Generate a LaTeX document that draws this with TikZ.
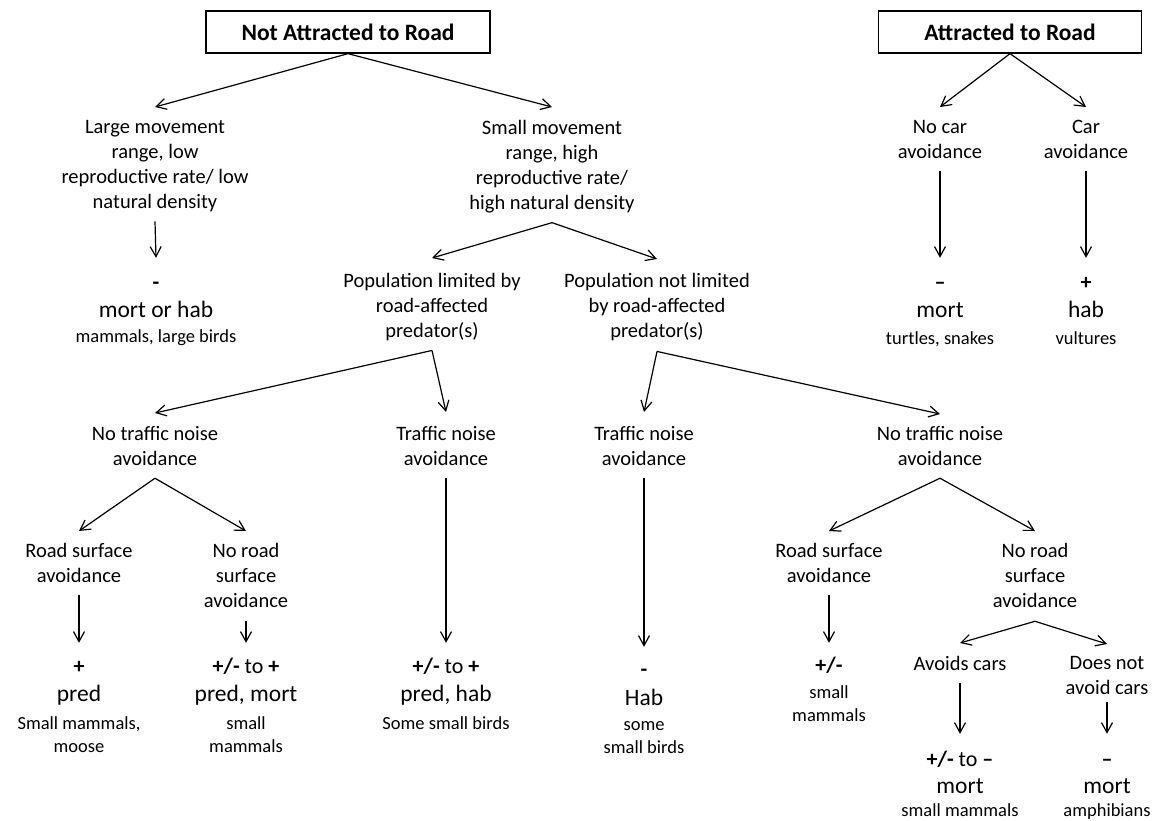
\documentclass[tikz,border=0pt]{standalone}
\usepackage{fontspec}
\setmainfont{Carlito}
\usetikzlibrary{arrows.meta}
\begin{document}
\begin{tikzpicture}[x=1pt,y=-1pt,
  lbl/.style={align=center, inner sep=0pt, anchor=north, font=\fontsize{20.5}{25}\selectfont},
  spc/.style={align=center, inner sep=0pt, anchor=north, font=\fontsize{18.5}{23.5}\selectfont},
  eff/.style={inner sep=0pt, text height=17pt, text depth=5pt, font=\fontsize{23.5}{28}\selectfont},
  sgn/.style={inner sep=0pt, text height=15pt, text depth=3pt, font=\fontsize{22}{26}\selectfont},
  head/.style={draw, line width=1.3pt, inner sep=0pt, minimum height=42pt, font=\fontsize{23.5}{28}\selectfont\bfseries},
  arr/.style={line width=1.2pt, -{Straight Barb[length=10pt,width=11pt]}}]
\useasboundingbox (0,0) rectangle (1158,821);

% headings
\node[head, minimum width=284pt] (nar) at (348,32) {Not Attracted to Road};
\node[head, minimum width=263pt] (ar) at (1010,32) {Attracted to Road};

% first level
\node[lbl] (lm) at (155,120) {Large movement\\range, low\\reproductive rate/ low\\natural density};
\node[lbl] (smv) at (552,120) {Small movement\\range, high\\reproductive rate/\\high natural density};
\node[lbl] (nca) at (940,120) {No car\\avoidance};
\node[lbl] (ca) at (1086,120) {Car\\avoidance};

% outcomes of the first level
\node[sgn] (s1) at (156,283) {\textbf{-}};
\node[eff] (e1) at (156,311) {mort or hab};
\node[spc] (p1) at (156,329) {mammals, large birds};
\node[sgn] (s2) at (940,283) {\textbf{–}};
\node[eff] (e2) at (940,311) {mort};
\node[spc] (p2) at (940,331) {turtles, snakes};
\node[sgn] (s3) at (1086,283) {\textbf{+}};
\node[eff] (e3) at (1086,311) {hab};
\node[spc] (p3) at (1086,331) {vultures};

% predators
\node[lbl] (plim) at (432,273) {Population limited by\\road-affected\\predator(s)};
\node[lbl] (pnl) at (657,273) {Population not limited\\by road-affected\\predator(s)};

% traffic noise
\node[lbl] (ntna1) at (155,426) {No traffic noise\\avoidance};
\node[lbl] (tna1) at (446,426) {Traffic noise\\avoidance};
\node[lbl] (tna2) at (644,426) {Traffic noise\\avoidance};
\node[lbl] (ntna2) at (940,426) {No traffic noise\\avoidance};

% road surface
\node[lbl] (rsa1) at (79,543) {Road surface\\avoidance};
\node[lbl] (nrsa1) at (246,543) {No road\\surface\\avoidance};
\node[lbl] (rsa2) at (829,543) {Road surface\\avoidance};
\node[lbl] (nrsa2) at (1035,543) {No road\\surface\\avoidance};

% cars
\node[lbl] (ac) at (960,656) {Avoids cars};
\node[lbl] (dna) at (1107,656) {Does not\\avoid cars};

% bottom outcomes
\node[sgn] (s4) at (79,667) {\textbf{+}};
\node[eff] (e4) at (79,695) {pred};
\node[spc] (p4) at (79,716) {Small mammals,\\moose};
\node[sgn] (s5) at (246,667) {\textbf{+/-} to \textbf{+}};
\node[eff] (e5) at (246,695) {pred, mort};
\node[spc] (p5) at (246,716) {small\\mammals};
\node[sgn] (s6) at (446,667) {\textbf{+/-} to \textbf{+}};
\node[eff] (e6) at (446,695) {pred, hab};
\node[spc] (p6) at (446,716) {Some small birds};
\node[sgn] (s7) at (644,670) {\textbf{-}};
\node[eff] (e7) at (644,699) {Hab};
\node[spc] (p7) at (644,721) {some\\small birds};
\node[sgn] (s8) at (829,666) {\textbf{+/-}};
\node[spc] (p8) at (829,685) {small\\mammals};
\node[sgn] (s9) at (960,760) {\textbf{+/-} to \textbf{–}};
\node[eff] (e9) at (960,787) {mort};
\node[spc] (p9) at (960,803) {small mammals};
\node[sgn] (s10) at (1107,760) {\textbf{–}};
\node[eff] (e10) at (1107,787) {mort};
\node[spc] (p10) at (1107,803) {amphibians};

% connectors
\draw[arr] (nar.south) -- ([yshift=13pt]lm.north);
\draw[arr] (nar.south) -- ([yshift=13pt]smv.north);
\draw[arr] (ar.south) -- ([yshift=13pt]nca.north);
\draw[arr] (ar.south) -- ([yshift=13pt]ca.north);
\draw[arr] ([yshift=-9.5pt]lm.south) -- ([yshift=16pt]s1.north);
\draw[arr] ([yshift=-12.5pt]nca.south) -- ([yshift=16pt]s2.north);
\draw[arr] ([yshift=-12.5pt]ca.south) -- ([yshift=16pt]s3.north);
\draw[arr] ([yshift=-9.5pt]smv.south) -- ([yshift=15pt]plim.north);
\draw[arr] ([yshift=-9.5pt]smv.south) -- ([yshift=14pt]pnl.north);
\draw[arr] ([yshift=-9.5pt]plim.south) -- ([yshift=13pt]ntna1.north);
\draw[arr] ([yshift=-9.5pt]plim.south) -- ([yshift=14pt]tna1.north);
\draw[arr] ([yshift=-10.5pt]pnl.south) -- ([yshift=14pt]tna2.north);
\draw[arr] ([yshift=-10.5pt]pnl.south) -- ([yshift=12pt]ntna2.north);
\draw[arr] ([yshift=-12.5pt]ntna1.south) -- ([yshift=12pt]rsa1.north);
\draw[arr] ([yshift=-12.5pt]ntna1.south) -- ([yshift=12pt]nrsa1.north);
\draw[arr] ([yshift=-12.5pt]ntna2.south) -- ([yshift=12pt]rsa2.north);
\draw[arr] ([yshift=-12.5pt]ntna2.south) -- ([yshift=12pt]nrsa2.north);
\draw[arr] ([yshift=-12.5pt]tna1.south) -- ([yshift=15pt]s6.north);
\draw[arr] ([yshift=-12.5pt]tna2.south) -- ([yshift=14pt]s7.north);
\draw[arr] ([yshift=-12.5pt]rsa1.south) -- ([yshift=15pt]s4.north);
\draw[arr] ([yshift=-13.5pt]nrsa1.south) -- ([yshift=15pt]s5.north);
\draw[arr] ([yshift=-12.5pt]rsa2.south) -- ([yshift=14pt]s8.north);
\draw[arr] ([yshift=-13.5pt]nrsa2.south) -- ([yshift=13pt]ac.north);
\draw[arr] ([yshift=-13.5pt]nrsa2.south) -- ([yshift=12pt]dna.north);
\draw[arr] ([yshift=-12.5pt]ac.south) -- ([yshift=17pt]s9.north);
\draw[arr] ([yshift=-7.5pt]dna.south) -- ([yshift=17pt]s10.north);
\end{tikzpicture}
\end{document}
